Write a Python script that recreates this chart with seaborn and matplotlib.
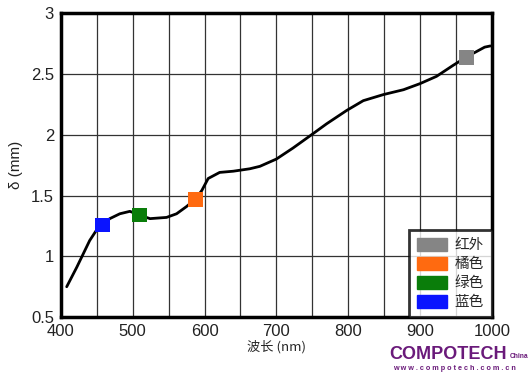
import pandas as pd
import seaborn as sns
import matplotlib.pyplot as plt
from matplotlib.patches import Patch

# === 1. Données ===
wavelength = [408, 422, 431, 440, 450, 458, 468, 482, 496, 509, 524, 547, 561, 575,
              587, 596, 605, 621, 640, 663, 677, 700, 723, 749, 770, 798, 821, 849,
              877, 900, 923, 946, 965, 990, 998]
delta = [0.75, 0.91, 1.02, 1.13, 1.22, 1.26, 1.31, 1.35, 1.37, 1.34, 1.31, 1.32, 1.35, 1.41,
         1.47, 1.54, 1.64, 1.69, 1.70, 1.72, 1.74, 1.80, 1.89, 2.00, 2.09, 2.20, 2.28, 2.33,
         2.37, 2.42, 2.48, 2.57, 2.64, 2.72, 2.73]

led_names = ["红外", "橘色", "绿色", "蓝色"]
led_wl = [965, 587, 509, 458]
led_delta = [2.635, 1.468, 1.339, 1.257]
led_colors = ["#858585", "#ff6a10", "#0a7d0a", "#0a14ff"]

x_ticks = [400, 500, 600, 700, 800, 900, 1000]
y_ticks = [0.5, 1, 1.5, 2, 2.5, 3]

df_curve = pd.DataFrame({"wl": wavelength, "delta": delta})
df_led = pd.DataFrame({"wl": led_wl, "delta": led_delta, "led": led_names})

# === 2. Style ===
sns.set_style("white")
plt.rcParams["font.family"] = ["Liberation Sans", "Noto Sans CJK SC", "DejaVu Sans"]

fig = plt.figure(figsize=(5.3, 3.74), dpi=100)
ax = fig.add_axes([0.115, 0.152, 0.813, 0.813])

# === 3. Courbe + marqueurs ===
sns.lineplot(data=df_curve, x="wl", y="delta", color="black", linewidth=2, ax=ax)
sns.scatterplot(data=df_led, x="wl", y="delta", hue="led", hue_order=led_names,
                palette=led_colors, marker="s", s=110, linewidth=0, legend=False,
                ax=ax, zorder=5)

ax.set_xlim(400, 1000)
ax.set_ylim(0.5, 3)
ax.set_xticks(range(400, 1001, 50))
ax.set_xticklabels([str(t) if t in x_ticks else "" for t in range(400, 1001, 50)])
ax.set_yticks(y_ticks)
ax.set_yticklabels(["0.5", "1", "1.5", "2", "2.5", "3"])
ax.tick_params(axis="both", length=0, labelsize=12, colors="#222222", pad=5)
ax.grid(True, color="#333333", linewidth=0.9)
ax.set_axisbelow(True)
for sp in ax.spines.values():
    sp.set_visible(True)
    sp.set_linewidth(2.5)
    sp.set_color("black")

ax.set_xlabel("波长 (nm)", fontsize=9.5, family=["Noto Sans CJK SC", "DejaVu Serif"], labelpad=1)
ax.set_ylabel("δ (mm)", fontsize=11, color="#222222", labelpad=6)

# === 4. Légende ===
handles = [Patch(facecolor=c, edgecolor=c) for c in led_colors]
leg = ax.legend(handles, led_names, loc="lower right", frameon=True, fancybox=False,
                handlelength=2.1, handleheight=1.0, handletextpad=0.5, labelspacing=0.3,
                borderpad=0.55, borderaxespad=0,
                prop={"family": "Noto Sans CJK SC", "size": 10.5})
leg.get_frame().set_edgecolor("black")
leg.get_frame().set_linewidth(2)

# === 5. Filigrane ===
fig.text(0.734, 0.04, "COMPOTECH", color="#6a1a7a", fontsize=13, fontweight="bold",
         family="Liberation Sans")
fig.text(0.962, 0.042, "China", color="#6a1a7a", fontsize=4.8, fontweight="bold")
fig.text(0.742, 0.01, "w w w . c o m p o t e c h . c o m . c n", color="#6a1a7a",
         fontsize=5.2, fontweight="bold")

plt.savefig("out.png", dpi=100)
